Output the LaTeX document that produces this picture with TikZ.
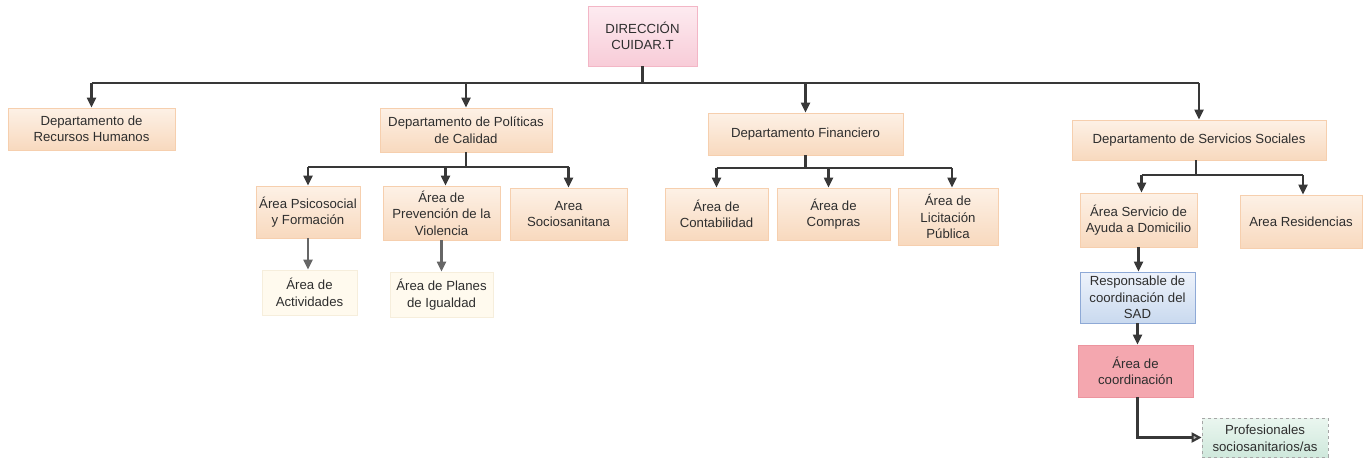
\documentclass[tikz,border=0pt]{standalone}
\usepackage{fontspec}
\setmainfont{Liberation Sans}
\usetikzlibrary{arrows.meta}
\definecolor{txt}{HTML}{2E2E2E}
\definecolor{ln}{HTML}{383838}
\definecolor{lngray}{HTML}{666666}
\definecolor{peachT}{HTML}{FDF1E6}
\definecolor{peachB}{HTML}{F8D9BE}
\definecolor{peachD}{HTML}{F6CFAE}
\definecolor{creamF}{HTML}{FFFAEE}
\definecolor{creamD}{HTML}{F6EEDC}
\definecolor{pinkT}{HTML}{FDEBF0}
\definecolor{pinkB}{HTML}{F8CCD8}
\definecolor{pinkD}{HTML}{F3B6C6}
\definecolor{blueT}{HTML}{EEF3FB}
\definecolor{blueB}{HTML}{C9D9EF}
\definecolor{blueD}{HTML}{8EA9D6}
\definecolor{salmon}{HTML}{F4A7AF}
\definecolor{salmonD}{HTML}{EC949E}
\definecolor{greenT}{HTML}{EAF6EF}
\definecolor{greenB}{HTML}{CFE8DC}
\tikzset{
  x=1pt,y=-1pt,
  base/.style={align=center,inner sep=1pt,text=txt,font=\fontsize{13.2}{16.5}\selectfont,line width=0.8pt},
  orangebox/.style={base,draw=peachD,top color=peachT,bottom color=peachB},
  creambox/.style={base,draw=creamD,fill=creamF},
  pinkbox/.style={base,draw=pinkD,top color=pinkT,bottom color=pinkB},
  bluebox/.style={base,draw=blueD,top color=blueT,bottom color=blueB},
  salmonbox/.style={base,draw=salmonD,fill=salmon},
  greenbox/.style={base,draw=gray!70,dashed,top color=greenT,bottom color=greenB},
  sz/.style 2 args={minimum width=#1pt,minimum height=#2pt},
  conn/.style={draw=ln,line width=2.1pt},
  arr/.style={conn,-{Triangle[width=9pt,length=10pt]}},
  garr/.style={draw=lngray,line width=2.1pt,-{Triangle[width=9pt,length=10pt]}},
  oarr/.style={conn,-{Triangle[width=10pt,length=10pt,fill=gray!55,color=ln]}}
}
\begin{document}
\begin{tikzpicture}
\useasboundingbox (0,0) rectangle (1370,459);
% nodes
\node[pinkbox,sz={109}{60}] (dir) at (642.5,36) {DIRECCIÓN\\CUIDAR.T};
\node[orangebox,sz={167}{42}] (rrhh) at (91.5,129) {Departamento de\\Recursos Humanos};
\node[orangebox,sz={172}{44}] (pol) at (466,130) {Departamento de Políticas\\de Calidad};
\node[orangebox,sz={195}{42}] (fin) at (805.5,134) {Departamento Financiero};
\node[orangebox,sz={254}{40}] (ss) at (1199,140) {Departamento de Servicios Sociales};
\node[orangebox,sz={104}{52}] (psi) at (308,212) {Área Psicosocial\\y Formación};
\node[orangebox,sz={117}{54}] (vio) at (441.5,213) {Área de\\Prevención de la\\Violencia};
\node[orangebox,sz={117}{52}] (soc) at (568.5,214) {Area\\Sociosanitana};
\node[creambox,sz={95}{45}] (act) at (309.5,292.5) {Área de\\Actividades};
\node[creambox,sz={103}{45}] (pla) at (441.5,294.5) {Área de Planes\\de Igualdad};
\node[orangebox,sz={103}{52}] (con) at (716.5,214) {Área de\\Contabilidad};
\node[orangebox,sz={113}{52}] (com) at (833.5,214) {Área de\\Compras};
\node[orangebox,sz={100}{57}] (lic) at (948,216.5) {Área de\\Licitación\\Pública};
\node[orangebox,sz={117}{54}] (asad) at (1138.5,220) {Área Servicio de\\Ayuda a Domicilio};
\node[orangebox,sz={122}{53}] (res) at (1301,221.5) {Area Residencias};
\node[bluebox,sz={115}{51}] (resp) at (1137.5,297.5) {Responsable de\\coordinación del\\SAD};
\node[salmonbox,sz={115}{52}] (coor) at (1135.5,371) {Área de\\coordinación};
\node[greenbox,sz={126}{39}] (prof) at (1265,437.5) {\strut Profesionales\\sociosanitarios/as};
% coordinates of buses
\coordinate (bus) at (0,83);
\coordinate (bpol) at (0,167);
\coordinate (bfin) at (0,168);
\coordinate (bss) at (0,175);
% main bus
\draw[conn] (dir.south) -- (dir.south |- bus);
\draw[conn] (rrhh.north |- bus) -- (ss.north |- bus);
\draw[arr] (rrhh.north |- bus) -- (rrhh.north);
\draw[arr] (pol.north |- bus) -- (pol.north);
\draw[arr] (fin.north |- bus) -- (fin.north);
\draw[arr] (ss.north |- bus) -- (ss.north);
% politicas
\draw[conn] (pol.south) -- (pol.south |- bpol);
\draw[conn] (psi.north |- bpol) -- (soc.north |- bpol);
\draw[arr] (psi.north |- bpol) -- (psi.north);
\draw[arr] ([xshift=4pt]vio.north |- bpol) -- ([xshift=4pt]vio.north);
\draw[arr] (soc.north |- bpol) -- (soc.north);
\draw[garr] (psi.south) -- (psi.south |- act.north);
\draw[garr] (vio.south) -- (pla.north);
% financiero
\draw[conn] (fin.south) -- (fin.south |- bfin);
\draw[conn] (con.north |- bfin) -- ([xshift=4pt]lic.north |- bfin);
\draw[arr] (con.north |- bfin) -- (con.north);
\draw[arr] ([xshift=-5pt]com.north |- bfin) -- ([xshift=-5pt]com.north);
\draw[arr] ([xshift=4pt]lic.north |- bfin) -- ([xshift=4pt]lic.north);
% servicios sociales
\draw[conn] ([xshift=-3pt]ss.south) -- ([xshift=-3pt]ss.south |- bss);
\draw[conn] ([xshift=3pt]asad.north |- bss) -- ([xshift=2pt]res.north |- bss);
\draw[arr] ([xshift=3pt]asad.north |- bss) -- ([xshift=3pt]asad.north);
\draw[arr] ([xshift=2pt]res.north |- bss) -- ([xshift=2pt]res.north);
\draw[arr] (asad.south) -- (asad.south |- resp.north);
\draw[arr] (resp.south) -- (resp.south |- coor.north);
\draw[oarr] ([xshift=2pt]coor.south) |- (prof.west);
\end{tikzpicture}
\end{document}
